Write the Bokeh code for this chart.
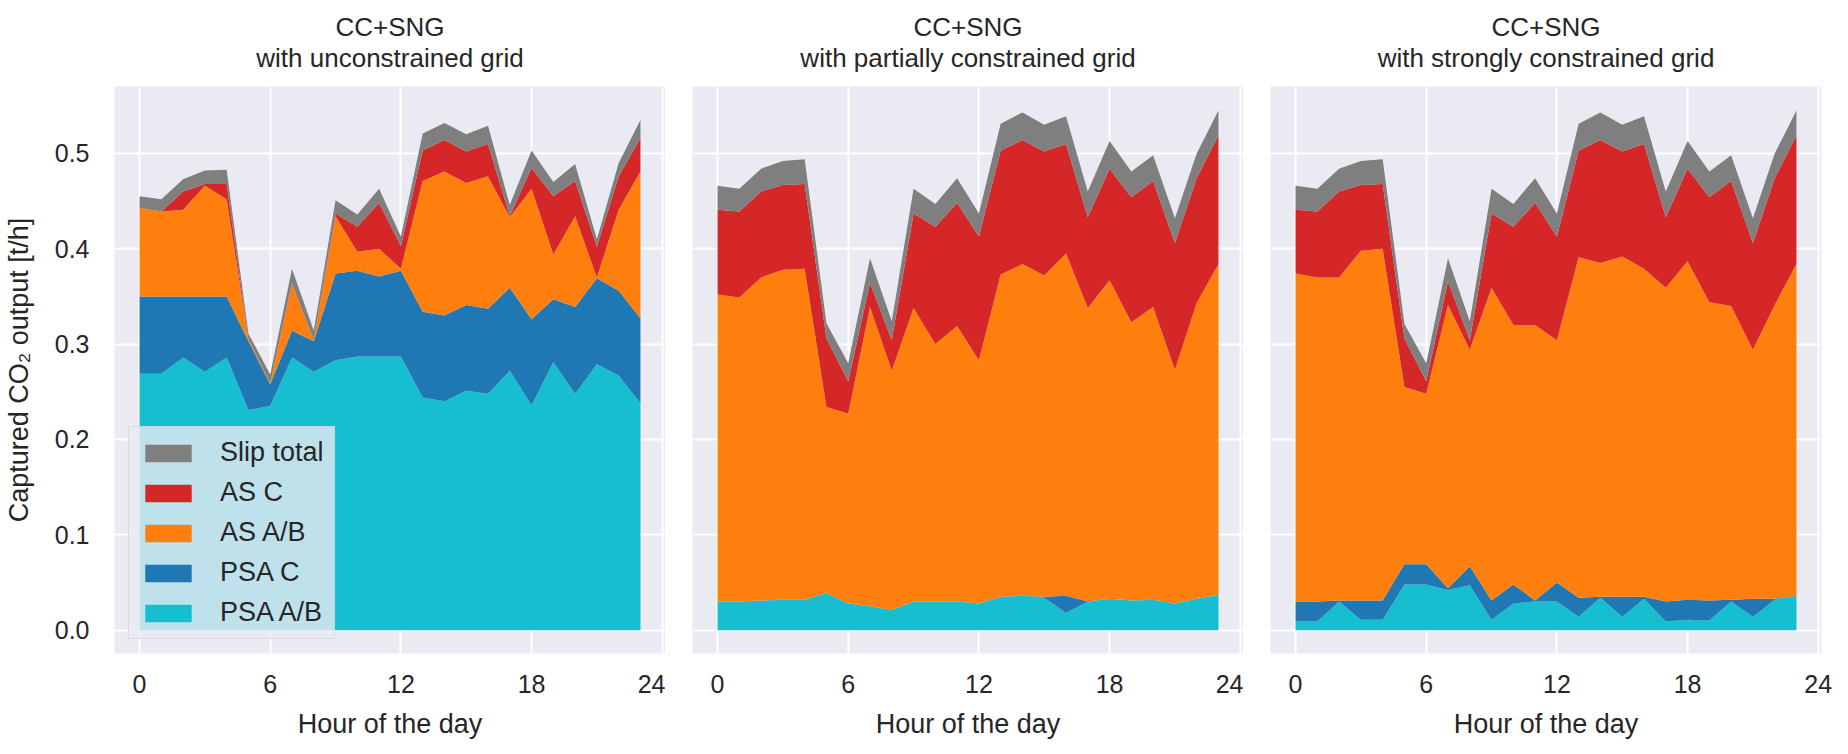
from bokeh.plotting import figure
from bokeh.layouts import row
from bokeh.models import ColumnDataSource, Range1d, FixedTicker, PrintfTickFormatter, Title
from bokeh.embed import file_html
from bokeh.resources import INLINE

hours = list(range(24))

main_title = "CC+SNG"
titles = ["with unconstrained grid", "with partially constrained grid", "with strongly constrained grid"]
series_labels = ["PSA A/B", "PSA C", "AS A/B", "AS C", "Slip total"]
colors = ["#17becf", "#1f77b4", "#ff7f0e", "#d62728", "#7f7f7f"]
x_ticks = [0, 6, 12, 18, 24]
y_ticks = [0.0, 0.1, 0.2, 0.3, 0.4, 0.5]

# Panel 1: unconstrained grid
p1_psa_ab = [0.269, 0.269, 0.286, 0.271, 0.286, 0.231, 0.235, 0.286, 0.271, 0.283, 0.287, 0.287,
             0.287, 0.244, 0.240, 0.251, 0.248, 0.272, 0.236, 0.281, 0.248, 0.279, 0.267, 0.238]
p1_psa_c = [0.081, 0.081, 0.064, 0.079, 0.064, 0.072, 0.023, 0.028, 0.032, 0.091, 0.090, 0.084,
            0.090, 0.090, 0.090, 0.090, 0.089, 0.087, 0.090, 0.066, 0.091, 0.090, 0.089, 0.089]
p1_as_ab = [0.093, 0.089, 0.091, 0.116, 0.102, 0.002, 0.001, 0.049, 0.001, 0.060, 0.020, 0.029,
            0.002, 0.137, 0.151, 0.128, 0.139, 0.074, 0.137, 0.047, 0.095, 0.001, 0.085, 0.154]
p1_as_c = [0.000, 0.000, 0.019, 0.002, 0.016, 0.000, 0.000, 0.001, 0.000, 0.003, 0.026, 0.048,
           0.024, 0.032, 0.033, 0.033, 0.034, 0.001, 0.022, 0.061, 0.037, 0.032, 0.035, 0.035]
p1_slip = [0.012, 0.013, 0.013, 0.014, 0.015, 0.006, 0.009, 0.015, 0.010, 0.014, 0.013, 0.015,
           0.010, 0.018, 0.018, 0.018, 0.019, 0.012, 0.018, 0.015, 0.018, 0.008, 0.014, 0.019]

# Panel 2: partially constrained grid
p2_psa_ab = [0.030, 0.030, 0.031, 0.032, 0.032, 0.039, 0.028, 0.025, 0.021, 0.030, 0.030, 0.030,
             0.028, 0.035, 0.036, 0.034, 0.018, 0.030, 0.033, 0.031, 0.032, 0.028, 0.033, 0.037]
p2_psa_c = [0.0, 0.0, 0.0, 0.0, 0.0, 0.0, 0.0, 0.0, 0.0, 0.0, 0.0, 0.0,
            0.0, 0.0, 0.0, 0.001, 0.018, 0.0, 0.0, 0.0, 0.0, 0.0, 0.0, 0.0]
p2_as_ab = [0.322, 0.319, 0.339, 0.346, 0.347, 0.195, 0.199, 0.314, 0.251, 0.308, 0.270, 0.289,
            0.255, 0.338, 0.348, 0.337, 0.359, 0.308, 0.334, 0.292, 0.307, 0.245, 0.310, 0.347]
p2_as_c = [0.089, 0.090, 0.090, 0.089, 0.089, 0.072, 0.034, 0.025, 0.032, 0.099, 0.123, 0.129,
           0.130, 0.130, 0.130, 0.130, 0.115, 0.095, 0.117, 0.131, 0.132, 0.133, 0.131, 0.135]
p2_slip = [0.025, 0.024, 0.024, 0.025, 0.026, 0.016, 0.019, 0.026, 0.020, 0.026, 0.024, 0.026,
           0.024, 0.028, 0.029, 0.028, 0.029, 0.027, 0.029, 0.027, 0.027, 0.026, 0.026, 0.026]

# Panel 3: strongly constrained grid
p3_psa_ab = [0.009, 0.009, 0.030, 0.011, 0.011, 0.048, 0.048, 0.042, 0.047, 0.011, 0.028, 0.030,
             0.030, 0.014, 0.034, 0.014, 0.033, 0.009, 0.011, 0.010, 0.030, 0.014, 0.032, 0.036]
p3_psa_c = [0.021, 0.021, 0.001, 0.020, 0.020, 0.021, 0.021, 0.002, 0.020, 0.020, 0.020, 0.001,
            0.020, 0.020, 0.001, 0.021, 0.002, 0.021, 0.021, 0.021, 0.002, 0.019, 0.001, 0.000]
p3_as_ab = [0.344, 0.340, 0.339, 0.367, 0.369, 0.186, 0.179, 0.297, 0.227, 0.328, 0.272, 0.289,
            0.254, 0.357, 0.350, 0.357, 0.344, 0.329, 0.355, 0.313, 0.308, 0.261, 0.308, 0.348]
p3_as_c = [0.067, 0.069, 0.090, 0.069, 0.068, 0.051, 0.013, 0.025, 0.010, 0.078, 0.103, 0.128,
           0.109, 0.112, 0.129, 0.110, 0.131, 0.074, 0.097, 0.110, 0.131, 0.112, 0.133, 0.135]
p3_slip = [0.025, 0.024, 0.024, 0.025, 0.026, 0.015, 0.019, 0.024, 0.020, 0.026, 0.024, 0.026,
           0.024, 0.028, 0.029, 0.028, 0.029, 0.027, 0.029, 0.027, 0.027, 0.026, 0.026, 0.026]

panels = [
    [p1_psa_ab, p1_psa_c, p1_as_ab, p1_as_c, p1_slip],
    [p2_psa_ab, p2_psa_c, p2_as_ab, p2_as_c, p2_slip],
    [p3_psa_ab, p3_psa_c, p3_as_ab, p3_as_c, p3_slip],
]

FONT = "Liberation Sans"
TXT = "#262626"
y_range = Range1d(-0.0245, 0.5702)

figs = []
for i, layers in enumerate(panels):
    p = figure(
        output_backend="svg", toolbar_location=None, tools="",
        frame_width=551, frame_height=567,
        x_range=Range1d(-1.15, 24.15), y_range=y_range,
        background_fill_color="#EAEAF2", border_fill_color="white",
        min_border_top=86, min_border_bottom=92,
        min_border_left=(113 if i == 0 else 27),
        min_border_right=(12 if i == 2 else 0),
    )
    p.outline_line_color = None
    data = {"hour": hours}
    names = []
    for lab, vals in zip(series_labels, layers):
        key = lab.replace(" ", "_").replace("/", "")
        data[key] = vals
        names.append(key)
    src = ColumnDataSource(data)
    if i == 0:
        p.varea_stack(stackers=names, x="hour", color=colors, legend_label=series_labels, source=src)
    else:
        p.varea_stack(stackers=names, x="hour", color=colors, source=src)

    p.add_layout(Title(text=titles[i], align="center", text_font=FONT, text_font_size="26px",
                       text_font_style="normal", text_color=TXT, standoff=27), "above")
    p.add_layout(Title(text=main_title, align="center", text_font=FONT, text_font_size="26px",
                       text_font_style="normal", text_color=TXT, standoff=-29), "above")

    for g in (p.xgrid, p.ygrid):
        g.grid_line_color = "white"
        g.grid_line_width = 2
    p.xaxis.ticker = FixedTicker(ticks=x_ticks)
    p.yaxis.ticker = FixedTicker(ticks=y_ticks)
    p.yaxis.formatter = PrintfTickFormatter(format="%.1f")
    for ax in (p.xaxis, p.yaxis):
        ax.axis_line_color = None
        ax.major_tick_line_color = None
        ax.minor_tick_line_color = None
        ax.major_label_text_font = FONT
        ax.major_label_text_font_size = "25px"
        ax.major_label_text_color = TXT
        ax.axis_label_text_font = FONT
        ax.axis_label_text_font_size = "27px"
        ax.axis_label_text_font_style = "normal"
        ax.axis_label_text_color = TXT
    p.xaxis.major_label_standoff = 15
    p.xaxis.axis_label = "Hour of the day"
    p.xaxis.axis_label_standoff = 13
    if i == 0:
        p.yaxis.axis_label = "Captured CO\u2082 output [t/h]"
        p.yaxis.major_label_standoff = 19
        p.yaxis.axis_label_standoff = 18
        items = list(p.legend.items)
        p.legend.items = items[::-1]
        lg = p.legend[0]
        lg.location = (14, 14)
        lg.margin = 0
        lg.padding = 10
        lg.spacing = 9
        lg.glyph_width = 58
        lg.glyph_height = 22
        lg.label_height = 22
        lg.label_standoff = 23
        lg.label_text_font = FONT
        lg.label_text_font_size = "27px"
        lg.label_text_color = TXT
        lg.background_fill_color = "#EAEAF2"
        lg.background_fill_alpha = 0.8
        lg.border_line_color = "#cccccc"
        lg.border_line_width = 1
    else:
        p.yaxis.visible = False
    figs.append(p)

layout = row(*figs)
open("out.html", "w").write(file_html(layout, INLINE))
